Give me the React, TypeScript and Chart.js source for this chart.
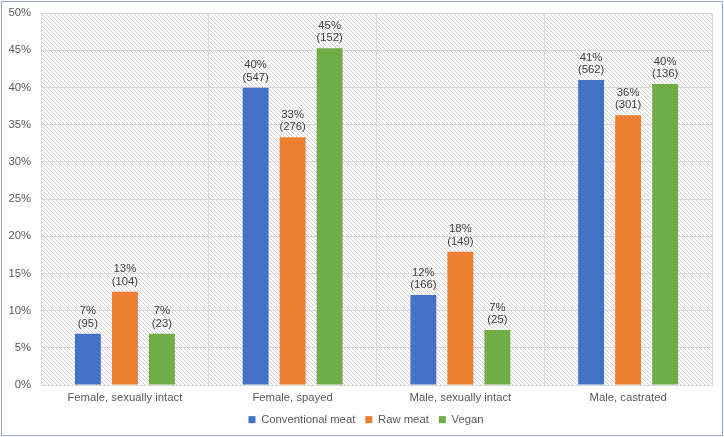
import React, { useEffect, useRef } from "react";
import { Chart, registerables } from "chart.js";

Chart.register(...registerables);

const categories = ["Female, sexually intact", "Female, spayed", "Male, sexually intact", "Male, castrated"];
const seriesNames = ["Conventional meat", "Raw meat", "Vegan"];
const conventionalPct = [6.9, 39.95, 12.1, 41.0];
const rawPct = [12.55, 33.3, 17.9, 36.25];
const veganPct = [6.9, 45.25, 7.4, 40.45];
const conventionalCounts = [95, 547, 166, 562];
const rawCounts = [104, 276, 149, 301];
const veganCounts = [23, 152, 25, 136];
const yTicks = [0, 5, 10, 15, 20, 25, 30, 35, 40, 45, 50];

const colors = ["#4472C4", "#ED7D31", "#70AD47"];
const FONT = "'Liberation Sans', Arial, sans-serif";
const FS = 11.3;

export default function App() {
  const ref = useRef<HTMLCanvasElement | null>(null);

  useEffect(() => {
    if (!ref.current) return;
    const pc = document.createElement("canvas");
    pc.width = 4;
    pc.height = 4;
    const pctx = pc.getContext("2d")!;
    pctx.fillStyle = "#ffffff";
    pctx.fillRect(0, 0, 4, 4);
    pctx.fillStyle = "#d2d2d2";
    for (let i = 0; i < 4; i++) pctx.fillRect(i, i, 1, 1);

    const counts = [conventionalCounts, rawCounts, veganCounts];

    const bgPlugin = {
      id: "hatchBg",
      beforeDraw(chart: any) {
        const { ctx, chartArea } = chart;
        const pat = ctx.createPattern(pc, "repeat");
        ctx.save();
        ctx.fillStyle = pat;
        ctx.fillRect(chartArea.left, chartArea.top, chartArea.right - chartArea.left, chartArea.bottom - chartArea.top);
        ctx.restore();
      },
    };

    const legendShift = {
      id: "legendShift",
      afterLayout(chart: any) {
        if (chart.legend) {
          chart.legend.left += 18;
        }
      },
    };

    const labelPlugin = {
      id: "barLabels",
      afterDatasetsDraw(chart: any) {
        const { ctx } = chart;
        ctx.save();
        ctx.font = `${FS}px ${FONT}`;
        ctx.fillStyle = "#404040";
        ctx.textAlign = "center";
        ctx.textBaseline = "middle";
        chart.data.datasets.forEach((ds: any, di: number) => {
          const meta = chart.getDatasetMeta(di);
          meta.data.forEach((el: any, i: number) => {
            const v = ds.data[i] as number;
            ctx.fillText(`(${counts[di][i]})`, el.x, el.y - 10);
            ctx.fillText(`${Math.round(v)}%`, el.x, el.y - 22.5);
          });
        });
        ctx.restore();
      },
    };

    const chart = new Chart(ref.current, {
      type: "bar",
      data: {
        labels: categories,
        datasets: [
          { label: seriesNames[0], data: conventionalPct, backgroundColor: colors[0], borderWidth: 0 },
          { label: seriesNames[1], data: rawPct, backgroundColor: colors[1], borderWidth: 0 },
          { label: seriesNames[2], data: veganPct, backgroundColor: colors[2], borderWidth: 0 },
        ],
      },
      options: {
        animation: false,
        responsive: true,
        maintainAspectRatio: false,
        categoryPercentage: 0.662,
        barPercentage: 0.7,
        layout: { padding: { left: 0, top: 11, right: 10, bottom: 0 } },
        plugins: {
          tooltip: { enabled: false },
          legend: {
            position: "bottom",
            maxHeight: 31,
            labels: {
              boxWidth: 7,
              boxHeight: 7,
              padding: 10,
              color: "#595959",
              font: { family: FONT, size: FS },
            },
          },
        },
        scales: {
          x: {
            grid: { color: "#d9d9d9", drawTicks: false, offset: true },
            border: { color: "#d9d9d9" },
            ticks: { color: "#595959", font: { family: FONT, size: FS }, padding: 6, maxRotation: 0 },
            afterFit(scale: any) {
              scale.height = 19;
            },
          },
          y: {
            min: 0,
            max: 50,
            afterBuildTicks(scale: any) {
              scale.ticks = yTicks.map((v) => ({ value: v }));
            },
            grid: { color: "#d9d9d9", drawTicks: true, tickLength: 10, tickColor: "rgba(0,0,0,0)" },
            border: { display: false },
            ticks: {
              color: "#595959",
              font: { family: FONT, size: FS },
              padding: 0,
              callback: (v: any) => `${v}%`,
            },
            afterFit(scale: any) {
              scale.width = 39;
            },
          },
        },
      },
      plugins: [bgPlugin, labelPlugin, legendShift],
    });
    return () => chart.destroy();
  }, []);

  return (
    <div
      style={{
        position: "fixed",
        left: 1,
        top: 1,
        width: 720,
        height: 433,
        border: "1px solid #8FAADC",
        background: "#ffffff",
      }}
    >
      <div style={{ position: "relative", width: 720, height: 433 }}>
        <canvas ref={ref} />
      </div>
    </div>
  );
}
